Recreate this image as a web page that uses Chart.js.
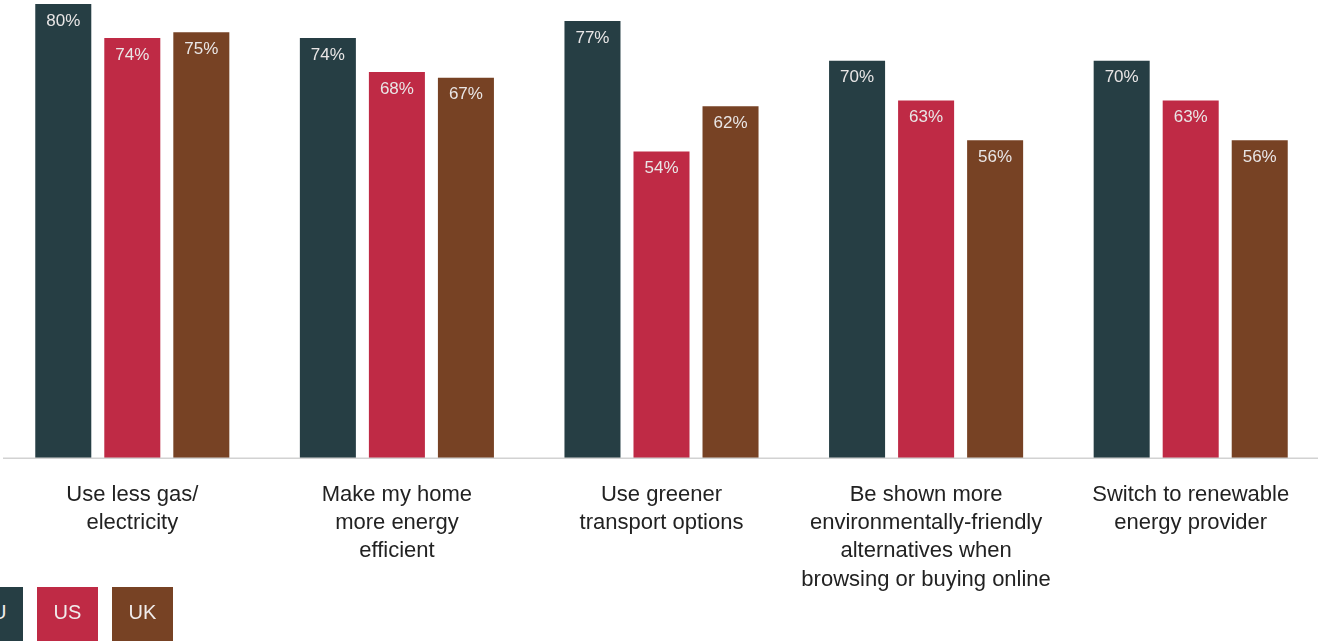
<!DOCTYPE html>
<html>
<head>
<meta charset="utf-8">
<script src="https://cdn.jsdelivr.net/npm/chart.js@4.4.1/dist/chart.umd.min.js"></script>
<style>
  html, body { margin: 0; padding: 0; background: #ffffff; overflow: hidden; width: 1318px; height: 641px; }
  #wrap { position: relative; width: 1318px; height: 641px; overflow: hidden; }
  canvas { position: absolute; left: 0; top: 0; }
  .lg { position: absolute; top: 587px; width: 61px; height: 60px; line-height: 50px; text-align: center;
        font-family: "Liberation Sans", Arial, sans-serif; font-size: 20px; color: #f0ecec; }
</style>
</head>
<body>
<div id="wrap">
  <canvas id="c" width="1323" height="641"></canvas>
  <div class="lg" id="lg0" style="left:-38px"></div>
  <div class="lg" id="lg1" style="left:37px"></div>
  <div class="lg" id="lg2" style="left:112px"></div>
</div>
<script>
const categories = [
  ["Use less gas/", "electricity"],
  ["Make my home", "more energy", "efficient"],
  ["Use greener", "transport options"],
  ["Be shown more", "environmentally-friendly", "alternatives when", "browsing or buying online"],
  ["Switch to renewable", "energy provider"]
];
const seriesNames = ["EU", "US", "UK"];
const euValues = [80, 74, 77, 70, 70];
const usValues = [74, 68, 54, 63, 63];
const ukValues = [75, 67, 62, 56, 56];
const seriesColors = ["#263e44", "#bf2a45", "#774224"];

seriesNames.forEach((n, i) => {
  const el = document.getElementById("lg" + i);
  el.textContent = n;
  el.style.background = seriesColors[i];
});

const barLabels = {
  id: "barLabels",
  afterDatasetsDraw(chart) {
    const ctx = chart.ctx;
    ctx.save();
    ctx.font = "300 17px 'Liberation Sans', Arial, sans-serif";
    ctx.fillStyle = "#e9e6e6";
    ctx.textAlign = "center";
    ctx.textBaseline = "middle";
    chart.data.datasets.forEach((ds, di) => {
      chart.getDatasetMeta(di).data.forEach((bar, i) => {
        ctx.fillText(ds.data[i] + "%", bar.x, bar.y + 17);
      });
    });
    ctx.restore();
  }
};

const baseLine = {
  id: "baseLine",
  afterDatasetsDraw(chart) {
    const ctx = chart.ctx;
    const y = chart.scales.y.getPixelForValue(0);
    ctx.save();
    ctx.strokeStyle = "#d2d2d2";
    ctx.lineWidth = 1.5;
    ctx.beginPath();
    ctx.moveTo(3, y + 0.25);
    ctx.lineTo(chart.width, y + 0.25);
    ctx.stroke();
    ctx.restore();
  }
};

new Chart(document.getElementById("c"), {
  type: "bar",
  data: {
    labels: categories,
    datasets: [
      { label: seriesNames[0], data: euValues, backgroundColor: seriesColors[0] },
      { label: seriesNames[1], data: usValues, backgroundColor: seriesColors[1] },
      { label: seriesNames[2], data: ukValues, backgroundColor: seriesColors[2] }
    ]
  },
  options: {
    responsive: false,
    animation: false,
    devicePixelRatio: 1,
    layout: { padding: 0 },
    datasets: { bar: { categoryPercentage: 0.7826, barPercentage: 0.8116 } },
    plugins: { legend: { display: false }, tooltip: { enabled: false } },
    scales: {
      x: {
        grid: { display: false, drawTicks: false },
        border: { display: false },
        ticks: {
          color: "#222222",
          padding: 23,
          maxRotation: 0,
          autoSkip: false,
          font: { family: "'Liberation Sans', Arial, sans-serif", size: 22, lineHeight: 1.28 }
        },
        afterFit(scale) { scale.height = 183; }
      },
      y: {
        display: false,
        min: 0,
        max: 80.7
      }
    }
  },
  plugins: [baseLine, barLabels]
});
</script>
</body>
</html>
